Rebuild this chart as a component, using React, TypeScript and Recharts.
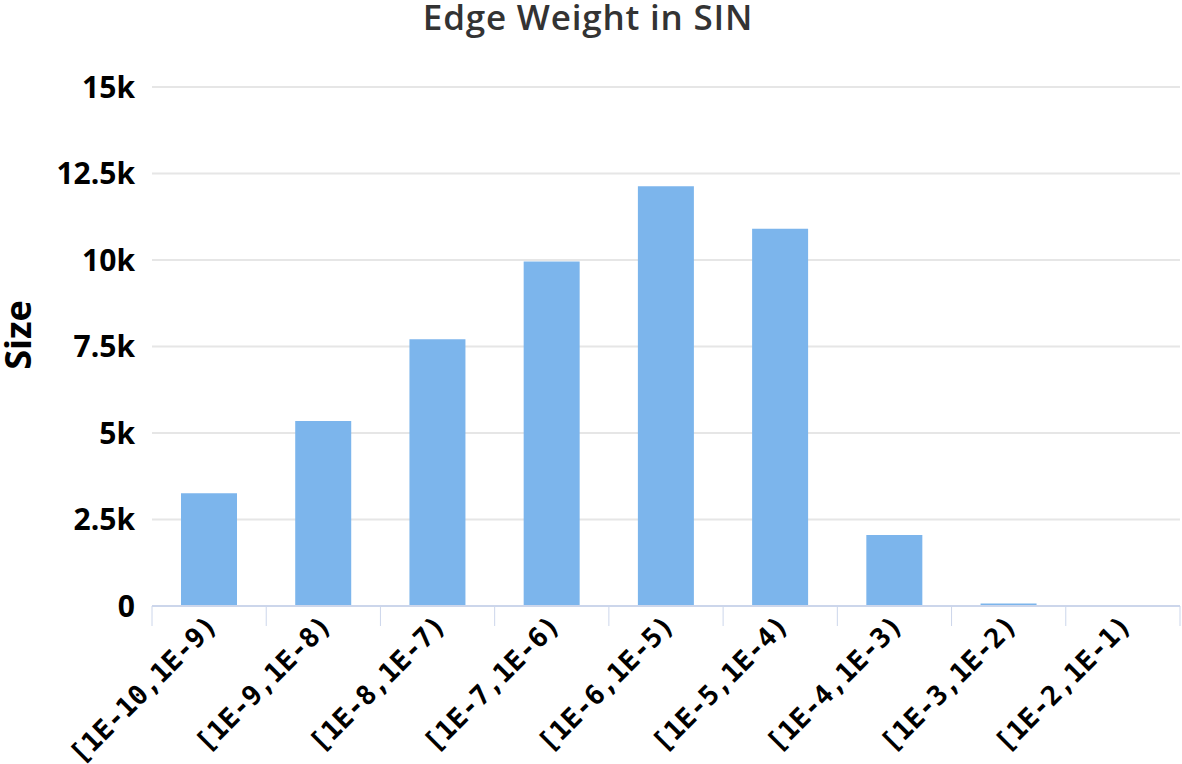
import React from 'react';
import { BarChart, Bar, XAxis, YAxis, CartesianGrid } from 'recharts';

const categories = [
  '[1E-10,1E-9)',
  '[1E-9,1E-8)',
  '[1E-8,1E-7)',
  '[1E-7,1E-6)',
  '[1E-6,1E-5)',
  '[1E-5,1E-4)',
  '[1E-4,1E-3)',
  '[1E-3,1E-2)',
  '[1E-2,1E-1)',
];
const sizes = [3260, 5350, 7710, 9960, 12130, 10900, 2050, 70, 25];
const yTicks = [0, 2500, 5000, 7500, 10000, 12500, 15000];
const yTickLabels = ['0', '2.5k', '5k', '7.5k', '10k', '12.5k', '15k'];
const titleText = 'Edge Weight in SIN';
const yAxisTitle = 'Size';

const data = categories.map((c, i) => ({ name: c, size: sizes[i] }));

const W = 1182;
const H = 764;
const LEFT = 152;
const RIGHT_M = 2;
const BAND = (W - LEFT - RIGHT_M) / categories.length;

const XTick = (props: any) => {
  const { x, y, payload, index } = props;
  const half = payload && payload.offset ? payload.offset : BAND / 2;
  const last = index === categories.length - 1;
  const tx = x + 10;
  const ty = y + 21;
  return (
    <g>
      <line x1={x - half} x2={x - half} y1={y} y2={y + 20} stroke="#ccd6eb" strokeWidth={1} />
      {last && <line x1={x + half} x2={x + half} y1={y} y2={y + 20} stroke="#ccd6eb" strokeWidth={1} />}
      <text
        x={tx}
        y={ty}
        textAnchor="end"
        transform={`rotate(-45, ${tx}, ${ty})`}
        fontFamily="'DejaVu Sans Mono', monospace"
        fontWeight="bold"
        fontSize={27}
        fill="#000"
      >
        {payload.value}
      </text>
    </g>
  );
};

export default function App() {
  return (
    <div style={{ position: 'absolute', left: 0, top: 0, width: W, height: H, background: '#fff' }}>
      <BarChart
        width={W}
        height={H}
        data={data}
        margin={{ top: 87, right: RIGHT_M, bottom: 0, left: 0 }}
      >
        <CartesianGrid vertical={false} stroke="#e6e6e6" strokeWidth={2} />
        <XAxis
          dataKey="name"
          height={158}
          interval={0}
          tickSize={0}
          tickMargin={0}
          tickLine={false}
          axisLine={{ stroke: '#ccd6eb', strokeWidth: 2 }}
          tick={<XTick />}
        />
        <YAxis
          width={LEFT}
          domain={[0, 15000]}
          ticks={yTicks}
          interval={0}
          axisLine={false}
          tickLine={false}
          tickSize={0}
          tickMargin={17}
          tickFormatter={(v: number) => yTickLabels[yTicks.indexOf(v)]}
          tick={{ fontFamily: "'Open Sans', sans-serif", fontWeight: 700, fontSize: 30, fill: '#000' }}
        />
        <Bar dataKey="size" fill="#7cb5ec" barSize={56} isAnimationActive={false} />
      </BarChart>
      <svg
        width={W}
        height={H}
        style={{ position: 'absolute', left: 0, top: 0, pointerEvents: 'none' }}
      >
        <text
          x={588}
          y={30}
          textAnchor="middle"
          fontFamily="'Open Sans', sans-serif"
          fontWeight={600}
          fontSize={35}
          letterSpacing={0.8}
          fill="#333"
        >
          {titleText}
        </text>
        <text
          x={31}
          y={335}
          textAnchor="middle"
          transform="rotate(-90, 31, 335)"
          fontFamily="'Open Sans', sans-serif"
          fontWeight={700}
          fontSize={36}
          fill="#000"
        >
          {yAxisTitle}
        </text>
      </svg>
    </div>
  );
}
